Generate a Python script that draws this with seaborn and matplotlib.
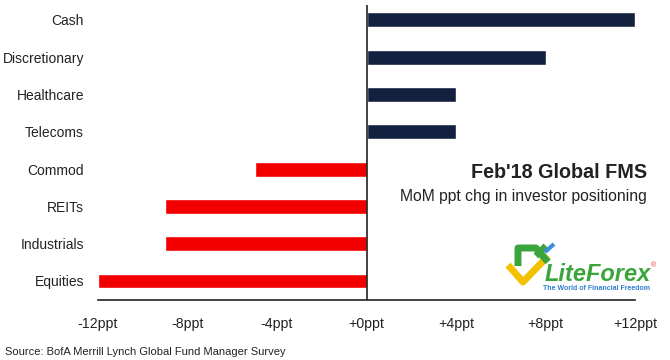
import matplotlib
matplotlib.use("Agg")
import matplotlib.pyplot as plt
import seaborn as sns
from matplotlib.lines import Line2D
from matplotlib import font_manager

categories = ["Cash", "Discretionary", "Healthcare", "Telecoms",
              "Commod", "REITs", "Industrials", "Equities"]
values = [12, 8, 4, 4, -5, -9, -9, -12]
tick_values = [-12, -8, -4, 0, 4, 8, 12]
tick_labels = ["-12ppt", "-8ppt", "-4ppt", "+0ppt", "+4ppt", "+8ppt", "+12ppt"]

NAVY = "#13203f"
RED = "#f20000"
colors = [NAVY if v > 0 else RED for v in values]

sns.set_theme(style="white")
plt.rcParams['font.family'] = ['Liberation Sans', 'DejaVu Sans']

names = {f.name for f in font_manager.fontManager.ttflist}
has_narrow = 'Liberation Sans Narrow' in names
ylab_font = ['Liberation Sans Narrow', 'Liberation Sans'] if has_narrow else ['Liberation Sans']
ylab_size = 11.2 if has_narrow else 10.0

fig = plt.figure(figsize=(6.7, 3.6), dpi=100)
ax = fig.add_axes([98/670, 1-300/360, (635-98)/670, (300-5)/360])

sns.barplot(x=values, y=categories, hue=categories, palette=colors,
            legend=False, orient="h", width=0.4, ax=ax, saturation=1)

ax.set_xlim(-12, 12)
ax.set_ylim(7.51, -0.40)
ax.axvline(0, color="#222222", lw=1.2)
for s in ["left", "top", "right"]:
    ax.spines[s].set_visible(False)
ax.spines["bottom"].set_color("#222222")
ax.spines["bottom"].set_linewidth(1.2)
ax.set_xticks(tick_values)
ax.set_xticklabels(tick_labels, fontsize=10.2, color="#222222")
ax.tick_params(axis="x", direction="out", length=5, width=1.2, color="#222222", pad=7)
ax.tick_params(axis="y", length=0, pad=10, labelcolor="#222222")
for lab in ax.get_yticklabels():
    lab.set_family(ylab_font)
    lab.set_fontsize(ylab_size)
ax.set_xlabel("")
ax.set_ylabel("")

fig.text(647/670, 1-178/360, "Feb'18 Global FMS", ha="right", va="baseline",
         fontsize=14.2, fontweight="bold", color="#222222")
fig.text(647/670, 1-201/360, "MoM ppt chg in investor positioning", ha="right",
         va="baseline", fontsize=11.3, color="#222222")
fig.text(5/670, 1-355/360, "Source: BofA Merrill Lynch Global Fund Manager Survey",
         ha="left", va="baseline", fontsize=8.0, color="#222222")

# LiteForex watermark
def fx(x):
    return x/670
def fy(y):
    return 1-y/360
fig.add_artist(Line2D([fx(508), fx(523), fx(548)], [fy(265), fy(282), fy(256)],
                      color="#f2c100", lw=5, solid_capstyle="butt"))
fig.add_artist(Line2D([fx(518), fx(518), fx(536), fx(548)], [fy(266), fy(248), fy(248), fy(262)],
                      color="#3aa53a", lw=5, solid_capstyle="butt"))
fig.add_artist(Line2D([fx(536), fx(546)], [fy(256), fy(246)],
                      color="#3aa53a", lw=5, solid_capstyle="butt"))
fig.add_artist(Line2D([fx(545), fx(554)], [fy(252), fy(244)],
                      color="#3b8fe0", lw=3, solid_capstyle="butt"))
fig.text(fx(545), fy(281), "LiteForex", ha="left", va="baseline", fontsize=17,
         fontweight="bold", fontstyle="italic", color="#3aa53a")
fig.text(fx(651), fy(267), "®", ha="left", va="baseline", fontsize=5, color="#e04040")
fig.text(fx(543), fy(290), "The World of Financial Freedom", ha="left", va="baseline",
         fontsize=5.0, fontweight="bold", color="#2f7fd0")

fig.savefig("out.png", dpi=100)
